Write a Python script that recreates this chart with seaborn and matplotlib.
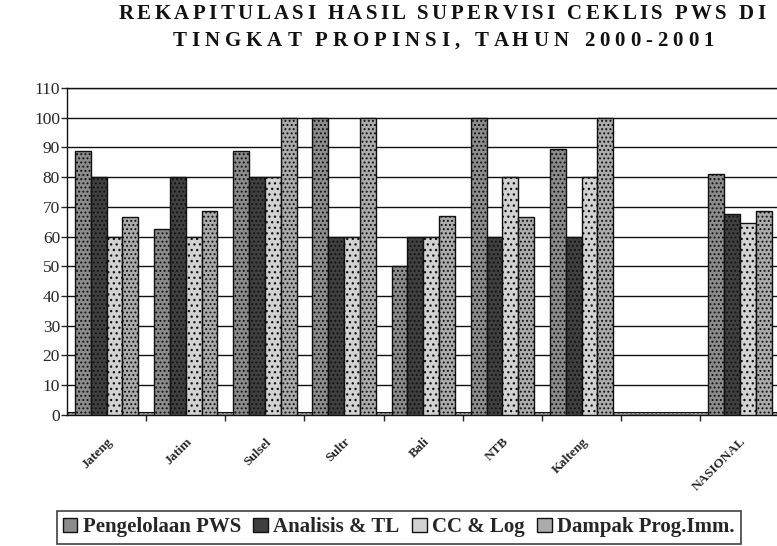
import matplotlib
matplotlib.use("Agg")
import matplotlib.pyplot as plt
from matplotlib.font_manager import FontProperties
from matplotlib.transforms import IdentityTransform
import seaborn as sns
import pandas as pd

# data
provinsi = ["Jateng", "Jatim", "Sulsel", "Sultr", "Bali", "NTB", "Kalteng", "", "NASIONAL"]
aspek = ["Pengelolaan PWS", "Analisis & TL", "CC & Log", "Dampak Prog.Imm."]
pengelolaan = [88.9, 62.5, 88.9, 100, 50, 100, 89.5, 0, 81]
analisis = [80, 80, 80, 60, 60, 60, 60, 0, 67.5]
cc_log = [60, 60, 80, 60, 60, 80, 80, 0, 64.5]
dampak = [66.7, 68.5, 100, 100, 67, 66.7, 100, 0, 68.5]

judul = ["REKAPITULASI HASIL SUPERVISI CEKLIS PWS DI", "TINGKAT PROPINSI, TAHUN 2000-2001"]

warna = ["#8c8c8c", "#404040", "#d2d2d2", "#ababab"]
pola = ["....", "....", "...", "...."]

df = pd.DataFrame({
    "provinsi": provinsi * 4,
    "aspek": [a for a in aspek for _ in provinsi],
    "nilai": pengelolaan + analisis + cc_log + dampak,
})

sns.set_style("white")
plt.rcParams["font.family"] = ["Liberation Serif", "DejaVu Serif"]
plt.rcParams["hatch.linewidth"] = 0.9


def spaced_text(fig, s, xc, y, tracking, prop):
    # matplotlib has no letter spacing, so place the characters one by one
    rend = fig.canvas.get_renderer()

    def w(t):
        return rend.get_text_width_height_descent(t, prop, ismath=False)[0]

    wi = w("I")
    lefts = [0.0] + [w(s[:i] + "I") - wi for i in range(1, len(s))]
    total = w(s) + tracking * (len(s) - 1)
    x0 = xc - total / 2
    for i, c in enumerate(s):
        if c == " ":
            continue
        fig.text(x0 + lefts[i] + i * tracking, y, c, ha="left", va="center",
                 fontproperties=prop, color="#111111", transform=IdentityTransform())


fig = plt.figure(figsize=(7.77, 5.46), dpi=100)
ax = fig.add_axes([0.0862, 0.240, 0.917, 0.599])

sns.barplot(data=df, x="provinsi", y="nilai", hue="aspek", order=provinsi,
            hue_order=aspek, palette=warna, saturation=1, width=0.8, ax=ax)

for cont, h in zip(ax.containers, pola):
    for bar in cont:
        bar.set_hatch(h)
        bar.set_edgecolor("#111111")
        bar.set_linewidth(1.0)
        bar.set_zorder(3)

# floor slab
ax.axhspan(0, 1.0, facecolor="#a0a0a0", edgecolor="#111111", hatch="....", lw=0.8, zorder=2)

ax.set_ylim(0, 110)
ax.set_xlim(-0.5, 8.5)
ax.set_yticks(range(0, 111, 10))
ax.yaxis.grid(True, color="#111111", lw=1.0, zorder=0)
ax.set_axisbelow(True)
for s in ax.spines.values():
    s.set_color("#111111")
    s.set_linewidth(1.0)
ax.tick_params(axis="y", direction="out", length=4, width=1, labelsize=12.5, pad=1, left=True)

ax.set_xticks(range(len(provinsi)))
ax.set_xticklabels(provinsi, rotation=45, ha="right", rotation_mode="anchor",
                   fontsize=9.5, fontweight="bold")
ax.tick_params(axis="x", length=0, pad=15)
ax.set_xticks([i + 0.5 for i in range(len(provinsi) - 1)], minor=True)
ax.tick_params(axis="x", which="minor", direction="out", length=4, width=1, bottom=True)
ax.set_xlabel("")
ax.set_ylabel("")

handles, labels = ax.get_legend_handles_labels()
ax.get_legend().remove()
leg = fig.legend(handles, labels, loc="upper center", bbox_to_anchor=(0.513, 0.064), ncol=4,
                 frameon=True, fancybox=False, edgecolor="#111111", handlelength=0.7,
                 handleheight=0.7, handletextpad=0.25, columnspacing=0.6, borderpad=0.3,
                 borderaxespad=0, prop={"size": 15, "weight": "bold"})
leg.get_frame().set_linewidth(1.2)
for p in leg.get_patches():
    p.set_edgecolor("#111111")

fp = FontProperties(family=["Liberation Serif"], weight="bold", size=15)
spaced_text(fig, judul[0], 442, 546 - 14, 3.4, fp)
spaced_text(fig, judul[1], 443, 546 - 41, 5.0, fp)

fig.savefig("out.png", dpi=100)
